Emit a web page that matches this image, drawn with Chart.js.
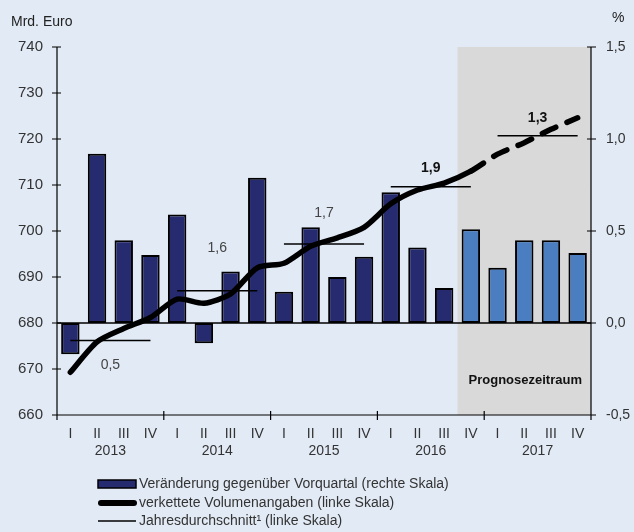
<!DOCTYPE html>
<html><head><meta charset="utf-8">
<script src="https://cdn.jsdelivr.net/npm/chart.js@4/dist/chart.umd.min.js"></script>
<style>html,body{margin:0;padding:0;background:#E2EAF5;}#wrap{width:634px;height:532px;position:relative;}</style>
</head><body><div id="wrap"><canvas id="c" width="634" height="532"></canvas></div>
<script>
// ---- data ----
const quarters = ['I','II','III','IV','I','II','III','IV','I','II','III','IV','I','II','III','IV','I','II','III','IV'];
const years = ['2013','2014','2015','2016','2017'];
const changePct = [-0.17,0.92,0.45,0.37, 0.59,-0.11,0.28,0.79, 0.17,0.52,0.25,0.36, 0.71,0.41,0.19,0.51, 0.30,0.45,0.45,0.38];
const volume = [669.3,675.9,678.8,681.2, 685.2,684.3,686.3,692.0, 693.0,696.7,698.5,700.8, 705.9,708.9,710.4,713.0, 716.7,719.2,722.1,724.6];
const annualAvg = [676.2,687.0,697.2,709.6,720.7];
const annualGrowth = ['0,5','1,6','1,7','1,9','1,3'];
const growthBold = [false,false,false,true,true];
const leftTicks = [660,670,680,690,700,710,720,730,740];
const rightTicks = [-0.5,0,0.5,1.0,1.5];
const forecastStart = 15; // 2016 IV
const legendLabels = ['Veränderung gegenüber Vorquartal (rechte Skala)','verkettete Volumenangaben (linke Skala)','Jahresdurchschnitt\u00B9 (linke Skala)'];

// ---- style ----
const FONT = "'Liberation Sans', Arial, sans-serif";
const TEXT = '#333333';
const BG = '#E2EAF5';
const SHADE = '#D9D9D9';
const NAVY = '#262A6E';
const LIGHT = '#4A7EC0';

const barColors = changePct.map((v,i)=> i>=forecastStart ? LIGHT : NAVY);

const annualDatasets = annualAvg.map((v,k)=>({
  type:'line', label:'Jahresdurchschnitt', yAxisID:'y', order:2,
  data: quarters.map((q,i)=> Math.floor(i/4)===k ? v : null),
  borderColor:'#000', borderWidth:1.5, pointRadius:0, spanGaps:false, tension:0
}));

const labelOffsets = [25,-43,-31,-19,-18];

const chromePlugin = {
  id:'chrome',
  beforeDraw(chart){
    const {ctx, chartArea:a, scales:{x}} = chart;
    ctx.save();
    ctx.fillStyle = BG; ctx.fillRect(0,0,chart.width,chart.height);
    const step = x.getPixelForValue(1)-x.getPixelForValue(0);
    const sx = x.getPixelForValue(forecastStart)-step/2;
    ctx.fillStyle = SHADE; ctx.fillRect(sx,a.top,a.right-sx,a.bottom-a.top);
    ctx.font = 'bold 13px '+FONT; ctx.fillStyle='#111'; ctx.textAlign='center'; ctx.textBaseline='middle';
    ctx.fillText('Prognosezeitraum',(sx+a.right)/2+1,380);
    ctx.restore();
  },
  afterDatasetsDraw(chart){
    const {ctx, chartArea:a, scales:{x,y,y2}} = chart;
    ctx.save();
    ctx.strokeStyle='#000'; ctx.lineWidth=1.5;
    // zero line
    const zy = y.getPixelForValue(680);
    ctx.beginPath(); ctx.moveTo(a.left,zy); ctx.lineTo(a.right,zy); ctx.stroke();
    ctx.lineWidth=1.2;
    // axes
    ctx.beginPath();
    ctx.moveTo(a.left,a.top); ctx.lineTo(a.left,a.bottom+5);
    ctx.moveTo(a.right,a.top); ctx.lineTo(a.right,a.bottom+5);
    ctx.moveTo(a.left,a.bottom); ctx.lineTo(a.right,a.bottom);
    leftTicks.forEach(v=>{const py=y.getPixelForValue(v); ctx.moveTo(a.left-5,py); ctx.lineTo(a.left+4,py);});
    rightTicks.forEach(v=>{const py=y2.getPixelForValue(v); ctx.moveTo(a.right-4,py); ctx.lineTo(a.right+5,py);});
    const step = x.getPixelForValue(1)-x.getPixelForValue(0);
    for(let i=4;i<quarters.length;i+=4){const px=x.getPixelForValue(i)-step/2; ctx.moveTo(px,a.bottom-4); ctx.lineTo(px,a.bottom+5);}
    ctx.stroke();
    // annual growth labels
    ctx.textAlign='center'; ctx.textBaseline='middle';
    annualGrowth.forEach((t,k)=>{
      const cx = (x.getPixelForValue(4*k+1)+x.getPixelForValue(4*k+2))/2;
      const cy = y.getPixelForValue(annualAvg[k])+labelOffsets[k];
      ctx.font = (growthBold[k]?'bold ':'')+'14px '+FONT;
      ctx.fillStyle = growthBold[k]?'#111':'#444';
      ctx.fillText(t,cx,cy);
    });
    // year labels
    ctx.font='14px '+FONT; ctx.fillStyle=TEXT;
    years.forEach((t,k)=>{
      const cx=(x.getPixelForValue(4*k+1)+x.getPixelForValue(4*k+2))/2;
      ctx.fillText(t,cx,451);
    });
    // unit labels
    ctx.textAlign='left'; ctx.fillStyle='#222';
    ctx.fillText('Mrd. Euro',11,22);
    ctx.fillText('%',612,18);
    // legend
    ctx.font='14px '+FONT; ctx.fillStyle=TEXT; ctx.textAlign='left'; ctx.textBaseline='middle';
    const lx=98, lw=38, tx=139, rows=[484,503,521];
    ctx.fillStyle=NAVY; ctx.fillRect(lx,rows[0]-4,lw,8);
    ctx.strokeStyle='#000'; ctx.lineWidth=1.5; ctx.strokeRect(lx,rows[0]-4,lw,8);
    ctx.lineCap='round'; ctx.lineWidth=6;
    ctx.beginPath(); ctx.moveTo(lx+3,rows[1]); ctx.lineTo(lx+lw-2,rows[1]); ctx.stroke();
    ctx.lineCap='butt'; ctx.lineWidth=1.5;
    ctx.beginPath(); ctx.moveTo(lx,rows[2]); ctx.lineTo(lx+lw,rows[2]); ctx.stroke();
    ctx.fillStyle=TEXT;
    legendLabels.forEach((t,i)=>ctx.fillText(t,tx,rows[i]));
    ctx.restore();
  }
};

new Chart(document.getElementById('c'),{
  data:{
    labels: quarters,
    datasets:[
      {type:'line', label:legendLabels[1], yAxisID:'y', order:1, data:volume,
       borderColor:'#000', borderWidth:5.5, pointRadius:0, tension:0.25,
       borderCapStyle:'round', borderJoinStyle:'round',
       segment:{borderDash: c => c.p0DataIndex>=forecastStart ? [15,12] : undefined}},
      ...annualDatasets,
      {type:'bar', label:legendLabels[0], yAxisID:'y2', order:3, data:changePct,
       backgroundColor:barColors, borderColor:'#000', borderWidth:2, borderSkipped:false,
       categoryPercentage:1, barPercentage:0.69}
    ]
  },
  options:{
    responsive:false, animation:false,
    layout:{padding:{top:47,left:0,right:0,bottom:0}},
    plugins:{legend:{display:false}, tooltip:{enabled:false}},
    scales:{
      x:{type:'category', offset:true, grid:{display:false,drawTicks:false}, border:{display:false},
         ticks:{font:{family:FONT,size:14}, color:TEXT, padding:11, maxRotation:0, autoSkip:false},
         afterFit(s){s.height=117;}},
      y:{position:'left', min:660, max:740, grid:{display:false,drawTicks:false}, border:{display:false},
         afterBuildTicks(s){s.ticks=leftTicks.map(v=>({value:v}));},
         ticks:{font:{family:FONT,size:15}, color:TEXT, padding:14},
         afterFit(s){s.width=57;}},
      y2:{position:'right', min:-0.5, max:1.5, grid:{display:false,drawTicks:false}, border:{display:false},
         afterBuildTicks(s){s.ticks=rightTicks.map(v=>({value:v}));},
         ticks:{font:{family:FONT,size:14}, color:TEXT, padding:15, callback:v=>v.toFixed(1).replace('.',',')},
         afterFit(s){s.width=43;}}
    }
  },
  plugins:[chromePlugin]
});
</script></body></html>
